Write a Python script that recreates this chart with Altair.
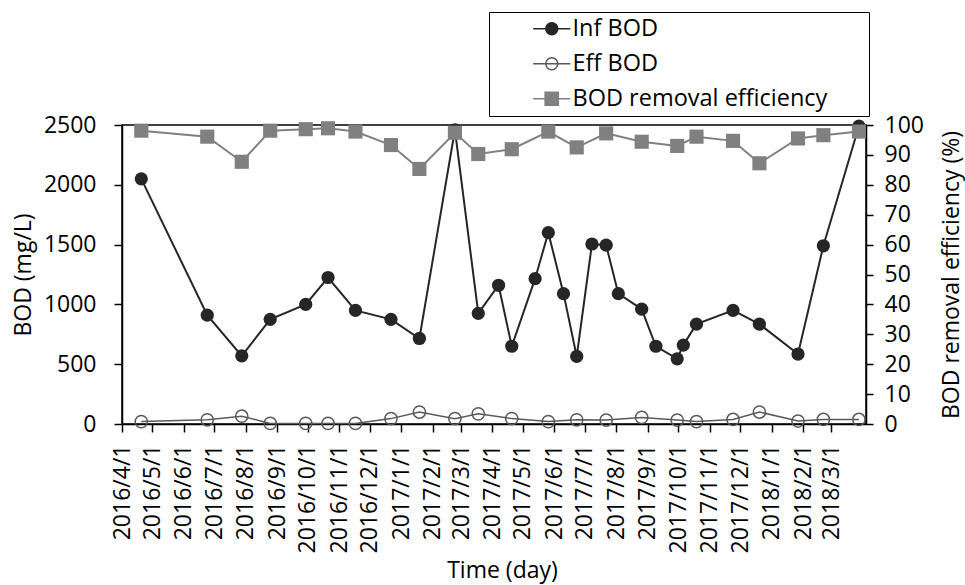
import altair as alt
import pandas as pd

FONT = "Open Sans"

# ---- data ----
inf_dates = ["2016-04-20", "2016-06-24", "2016-07-28", "2016-08-25", "2016-09-29",
             "2016-10-21", "2016-11-17", "2016-12-22", "2017-01-19", "2017-02-23",
             "2017-03-18", "2017-04-07", "2017-04-20", "2017-05-13", "2017-05-26",
             "2017-06-10", "2017-06-23", "2017-07-08", "2017-07-22", "2017-08-03",
             "2017-08-26", "2017-09-09", "2017-09-30", "2017-10-06", "2017-10-19",
             "2017-11-24", "2017-12-20", "2018-01-27", "2018-02-21", "2018-03-28"]
inf_bod = [2050, 910, 570, 875, 1000, 1225, 950, 875, 715, 2460,
           925, 1160, 650, 1215, 1600, 1090, 565, 1505, 1495, 1090,
           960, 650, 545, 660, 835, 950, 835, 585, 1490, 2490]

eff_dates = ["2016-04-20", "2016-06-24", "2016-07-28", "2016-08-25", "2016-09-29",
             "2016-10-21", "2016-11-17", "2016-12-22", "2017-01-19", "2017-02-23",
             "2017-03-18", "2017-04-20", "2017-05-26", "2017-06-23", "2017-07-22",
             "2017-08-26", "2017-09-30", "2017-10-19", "2017-11-24", "2017-12-20",
             "2018-01-27", "2018-02-21", "2018-03-28"]
eff_bod = [20, 35, 65, 5, 5, 5, 5, 45, 100, 45,
           85, 45, 20, 35, 33, 55, 33, 20, 38, 100,
           25, 38, 38]
removal_eff = [98.1, 96.1, 87.7, 98.1, 98.6, 98.9, 97.8, 93.3, 85.3, 97.4,
               90.3, 91.9, 97.8, 92.5, 97.2, 94.4, 93.0, 96.1, 94.7, 87.2,
               95.5, 96.6, 97.8]

series_names = ["Inf BOD", "Eff BOD", "BOD removal efficiency"]
tick_months = ["2016-04-01", "2016-05-01", "2016-06-01", "2016-07-01", "2016-08-01",
               "2016-09-01", "2016-10-01", "2016-11-01", "2016-12-01", "2017-01-01",
               "2017-02-01", "2017-03-01", "2017-04-01", "2017-05-01", "2017-06-01",
               "2017-07-01", "2017-08-01", "2017-09-01", "2017-10-01", "2017-11-01",
               "2017-12-01", "2018-01-01", "2018-02-01", "2018-03-01"]
x_domain = ["2016-04-01", "2018-04-04"]
left_ticks = [0, 500, 1000, 1500, 2000, 2500]
right_ticks = [0, 10, 20, 30, 40, 50, 60, 70, 80, 90, 100]

# ---- styles ----
C_INF = "#262626"
C_EFF = "#595959"
C_REM = "#808080"


def dt(s):
    y, m, d = (int(v) for v in s.split("-"))
    return alt.DateTime(year=y, month=m, date=d, utc=True)


inf_df = pd.DataFrame({"date": inf_dates, "value": inf_bod})
eff_df = pd.DataFrame({"date": eff_dates, "value": eff_bod})
rem_df = pd.DataFrame({"date": eff_dates, "value": removal_eff})
legend_df = pd.DataFrame({"series": series_names})

x_enc = alt.X(
    "date:T",
    scale=alt.Scale(type="utc", domain=[dt(s) for s in x_domain], nice=False),
    axis=alt.Axis(
        title="Time (day)",
        values=[dt(s) for s in tick_months],
        labelExpr="utcFormat(datum.value, '%Y/%-m/%-d')",
        labelAngle=-90,
        labelAlign="right",
        labelBaseline="middle",
        labelPadding=12,
        tickSize=8,
        titleX=380,
        titleY=153,
        titleAlign="center",
        titleBaseline="alphabetic",
        labelOverlap=False,
        labelFlush=False,
    ),
)

y_left = alt.Y(
    "value:Q",
    scale=alt.Scale(domain=[0, 2500], nice=False),
    axis=alt.Axis(title="BOD (mg/L)", values=left_ticks, format="d", tickSize=8,
                  labelPadding=18, titlePadding=8),
)
y_right = alt.Y(
    "value:Q",
    scale=alt.Scale(domain=[0, 100], nice=False),
    axis=alt.Axis(title="BOD removal efficiency (%)", orient="right",
                  values=right_ticks, format="d", tickSize=7, labelPadding=11,
                  titlePadding=40, titleAngle=-90),
)

inf_line = alt.Chart(inf_df).mark_line(color=C_INF, strokeWidth=2).encode(x=x_enc, y=y_left)
inf_pts = alt.Chart(inf_df).mark_point(shape="circle", filled=True, size=175,
                                       color=C_INF, opacity=1).encode(x=x_enc, y=y_left)
eff_line = alt.Chart(eff_df).mark_line(color=C_EFF, strokeWidth=1.5).encode(x=x_enc, y=y_left)
eff_pts = alt.Chart(eff_df).mark_point(shape="circle", filled=False, size=150,
                                       color=C_EFF, strokeWidth=1.5,
                                       opacity=1).encode(x=x_enc, y=y_left)
left = alt.layer(inf_line, eff_line, inf_pts, eff_pts)

rem_line = alt.Chart(rem_df).mark_line(color=C_REM, strokeWidth=2).encode(x=x_enc, y=y_right)
rem_pts = alt.Chart(rem_df).mark_point(shape="square", filled=True, size=200,
                                       color=C_REM, opacity=1).encode(x=x_enc, y=y_right)
right = alt.layer(rem_line, rem_pts)

# legend-only layer (no marks drawn: data filtered out, scales have explicit domains)
sym_circle = "M-1,0A1,1 0 1,0 1,0A1,1 0 1,0 -1,0ZM-3.1,0H3.1"
sym_square = "M-3.1,0H3.1M-1.1,-1.1H1.1V1.1H-1.1Z"
LEG_TITLE = "\u00a0"
legend_layer = alt.Chart(legend_df).mark_point().encode(
    shape=alt.Shape("series:N", title=LEG_TITLE,
                    scale=alt.Scale(domain=series_names,
                                    range=[sym_circle, sym_circle, sym_square]),
                    legend=alt.Legend(
                        orient="none", legendX=367, legendY=-113,
                        padding=5, strokeColor="black", fillColor="white",
                        labelFont=FONT, labelFontSize=23.5, labelColor="black",
                        titleOrient="right", titlePadding=37,
                        titleFont=FONT, titleFontSize=6, titleColor="white",
                        symbolSize=144, symbolStrokeWidth=1.5, symbolOpacity=1,
                        symbolOffset=46, labelOffset=9, rowPadding=10,
                        labelLimit=400,
                    )),
    stroke=alt.Stroke("series:N", title=LEG_TITLE,
                      scale=alt.Scale(domain=series_names, range=[C_INF, C_EFF, C_REM])),
    fill=alt.Fill("series:N", title=LEG_TITLE,
                  scale=alt.Scale(domain=series_names,
                                  range=[C_INF, "transparent", C_REM])),
).transform_filter("false")

chart = (
    alt.layer(left, right, legend_layer)
    .resolve_scale(y="independent")
    .properties(
        width=744, height=299,
        autosize=alt.AutoSizeParams(type="none"),
        padding={"left": 122, "top": 125, "right": 99, "bottom": 161},
        background="white",
    )
    .configure_view(stroke="black", strokeWidth=1.5)
    .configure_axis(
        labelFont=FONT, titleFont=FONT, labelFontSize=23, titleFontSize=23,
        labelColor="black", titleColor="black", titleFontWeight="normal",
        domainColor="black", tickColor="black", domainWidth=1.5, tickWidth=1.5,
        grid=False,
    )
)

chart.save("out.html", embed_options={"renderer": "svg", "actions": False})
